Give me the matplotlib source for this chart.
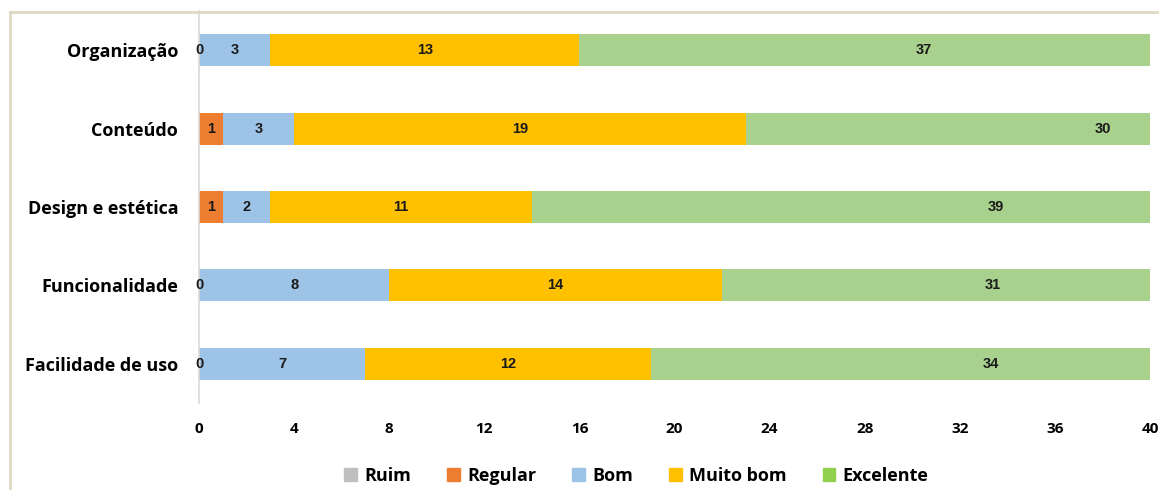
import matplotlib.pyplot as plt
from matplotlib.patches import Patch

plt.rcParams['font.family'] = ['Open Sans', 'DejaVu Sans']

# Dados (respostas por critério)
criterios = ['Organização', 'Conteúdo', 'Design e estética', 'Funcionalidade', 'Facilidade de uso']
ruim = [0, 0, 0, 0, 0]
regular = [0, 1, 1, 0, 0]
bom = [3, 3, 2, 8, 7]
muito_bom = [13, 19, 11, 14, 12]
excelente = [37, 30, 39, 31, 34]

series = [('Ruim', ruim), ('Regular', regular), ('Bom', bom),
          ('Muito bom', muito_bom), ('Excelente', excelente)]
cores_barra = ['#BFBFBF', '#ED7D31', '#9DC3E6', '#FFC000', '#A9D18E']
cores_legenda = ['#BFBFBF', '#ED7D31', '#9DC3E6', '#FFC000', '#92D050']

# deslocamento manual dos rótulos "Excelente" (como no gráfico original)
ajuste_excelente = [-4.0, 0.0, 0.0, -4.1, -2.7]

fig = plt.figure(figsize=(11.59, 4.9), dpi=100)
ax = fig.add_axes([0.1717, 0.1776, 0.8205, 0.8])

# moldura bege do gráfico
fig.add_artist(plt.Line2D([10 / 1159, 10 / 1159], [0, 1 - 12 / 490], color='#DDD9C3', lw=2))
fig.add_artist(plt.Line2D([10 / 1159, 1], [1 - 12 / 490, 1 - 12 / 490], color='#DDD9C3', lw=2))

y = list(range(len(criterios)))
esquerda = [0] * len(criterios)
for i, (nome, vals) in enumerate(series):
    ax.barh(y, vals, left=esquerda, height=0.41, color=cores_barra[i], label=nome)
    if nome != 'Ruim':
        for j, v in enumerate(vals):
            xc = esquerda[j] + v / 2
            if nome == 'Excelente':
                xc += ajuste_excelente[j]
            ax.text(xc, y[j], str(v), ha='center', va='center', fontsize=10.5,
                    fontweight='bold', family=['Liberation Sans Narrow', 'Liberation Sans'],
                    color='#1a1a1a', clip_on=False)
    esquerda = [a + b for a, b in zip(esquerda, vals)]

ax.set_xlim(0, 40)
ax.set_ylim(len(criterios) - 0.5, -0.5)
ax.set_xticks(range(0, 41, 4))
ax.set_yticks(y)
ax.set_yticklabels(criterios, fontsize=13, fontweight='bold')
for lbl in ax.get_xticklabels():
    lbl.set_fontweight('bold')
    lbl.set_fontsize(11)
ax.tick_params(axis='x', length=0, pad=14)
ax.tick_params(axis='y', length=0, pad=15)
for s in ['top', 'right', 'bottom']:
    ax.spines[s].set_visible(False)
ax.spines['left'].set_color('#D9D9D9')
ax.spines['left'].set_linewidth(1.2)

handles = [Patch(color=c) for c in cores_legenda]
fig.legend(handles, [s[0] for s in series], loc='center', bbox_to_anchor=(0.549, 0.029),
           ncol=5, frameon=False, handlelength=0.7, handleheight=0.7, handletextpad=0.4,
           columnspacing=2.0, prop={'weight': 'bold', 'size': 13})

fig.savefig('out.png', dpi=100)
